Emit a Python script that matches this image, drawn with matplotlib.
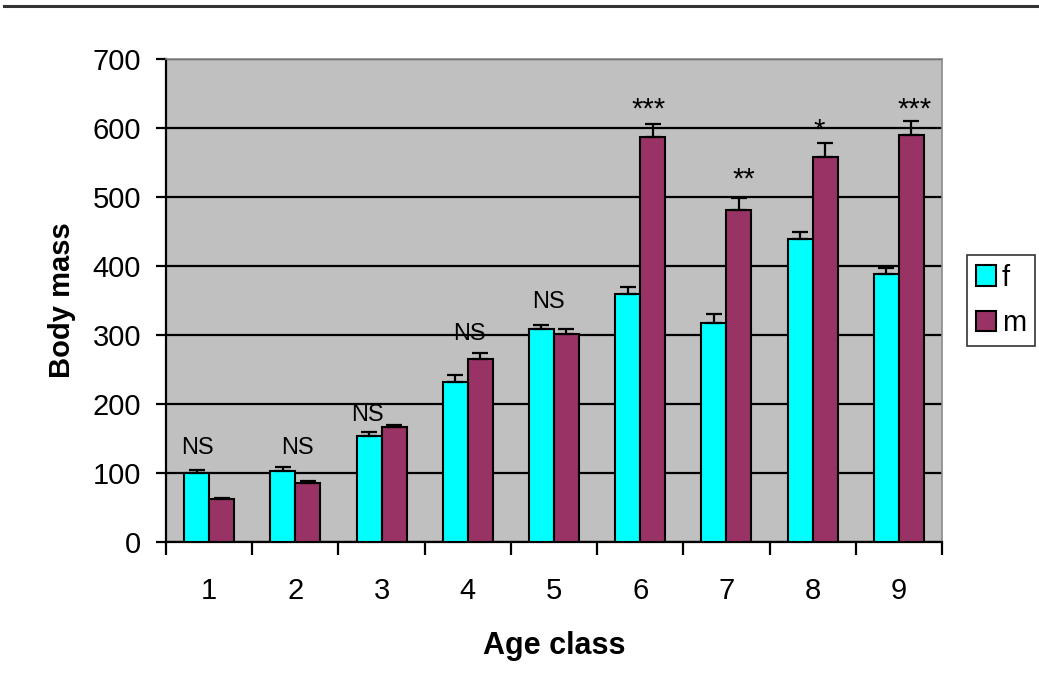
import numpy as np
import matplotlib
matplotlib.use("Agg")
import matplotlib.pyplot as plt
from matplotlib.lines import Line2D

plt.rcParams['font.family'] = ['Liberation Sans', 'DejaVu Sans']

# mean body mass per age class, females and males, with upper error bars
age_class = ['1', '2', '3', '4', '5', '6', '7', '8', '9']
mass_f = [100, 103, 153, 232, 308, 359, 318, 439, 388]
mass_m = [63, 86, 166, 265, 302, 587, 481, 558, 590]
err_f = [4, 5, 6, 10, 7, 11, 13, 11, 9]
err_m = [1, 2, 3, 9, 7, 19, 18, 20, 20]

# significance of the sex difference in each age class
sig_labels = ['NS', 'NS', 'NS', 'NS', 'NS', '***', '**', '*', '***']
sig_y = [136, 136, 184, 302, 348, 627, 525, 596, 627]
sig_dx = [-0.13, 0.02, -0.16, 0.02, -0.07, 0.10, 0.20, 0.07, 0.18]

col_f = '#00FFFF'
col_m = '#993366'

fig = plt.figure(figsize=(10.39, 7.0), dpi=100)
ax = fig.add_axes([0.1598, 0.2257, 0.7468, 0.69])
ax.set_facecolor('#C0C0C0')

x = np.arange(1, len(age_class) + 1)
w = 0.29
ekw = dict(elinewidth=1.6, capthick=1.6, ecolor='black')
ax.bar(x - w / 2, mass_f, w, color=col_f, edgecolor='black', linewidth=1.5,
       yerr=[np.zeros(len(err_f)), err_f], capsize=6, error_kw=ekw, label='f', zorder=3)
ax.bar(x + w / 2, mass_m, w, color=col_m, edgecolor='black', linewidth=1.5,
       yerr=[np.zeros(len(err_m)), err_m], capsize=6, error_kw=ekw, label='m', zorder=3)

for xi, lab, yv, dx in zip(x, sig_labels, sig_y, sig_dx):
    fs = 17 if lab == 'NS' else 21
    ax.text(xi + dx, yv, lab, ha='center', va='center', fontsize=fs, zorder=4)

ax.set_xlim(0.5, len(age_class) + 0.5)
ax.set_ylim(0, 700)
ax.set_yticks(np.arange(0, 701, 100))
ax.yaxis.grid(True, color='black', linewidth=1.6, zorder=1)
ax.set_axisbelow(True)

# group boundaries carry the tick marks, labels sit at group centres
ax.set_xticks(np.arange(0.5, len(age_class) + 1, 1.0))
ax.set_xticklabels([])
ax.set_xticks(x, minor=True)
ax.set_xticklabels(age_class, minor=True)
ax.tick_params(axis='x', which='major', length=9, width=1.6, direction='out')
ax.tick_params(axis='x', which='minor', length=0, pad=25, labelsize=21)
ax.tick_params(axis='y', length=7, width=1.6, direction='out', pad=11, labelsize=21)

for s in ['left', 'bottom']:
    ax.spines[s].set_linewidth(1.6)
    ax.spines[s].set_color('black')
for s in ['top', 'right']:
    ax.spines[s].set_linewidth(1.2)
    ax.spines[s].set_color('#8a8a8a')

ax.set_ylabel('Body mass', fontsize=21, fontweight='bold', labelpad=12)
ax.set_xlabel('Age class', fontsize=22, fontweight='bold', labelpad=19)

leg = ax.legend(loc='center left', bbox_to_anchor=(1.032, 0.5), fontsize=21,
                frameon=True, fancybox=False, edgecolor='black', handlelength=0.7,
                handleheight=0.7, handletextpad=0.2, borderpad=0.3, labelspacing=0.6,
                borderaxespad=0)
leg.get_frame().set_linewidth(1.2)

# rule across the top of the page
fig.add_artist(Line2D([0.004, 1.0], [0.991, 0.991], transform=fig.transFigure,
                      color='#333333', linewidth=2.2))

fig.savefig('out.png', dpi=100)
